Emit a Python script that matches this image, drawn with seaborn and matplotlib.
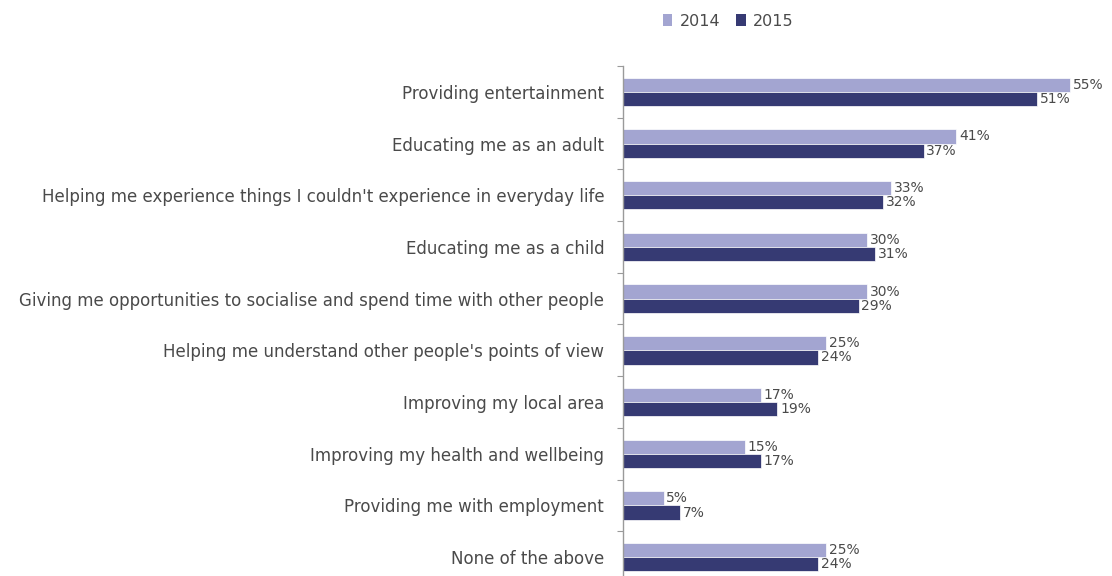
import numpy as np
import pandas as pd
import matplotlib
matplotlib.use("Agg")
import matplotlib.pyplot as plt
import seaborn as sns
from matplotlib.patches import Patch

categories = [
    "Providing entertainment",
    "Educating me as an adult",
    "Helping me experience things I couldn't experience in everyday life",
    "Educating me as a child",
    "Giving me opportunities to socialise and spend time with other people",
    "Helping me understand other people's points of view",
    "Improving my local area",
    "Improving my health and wellbeing",
    "Providing me with employment",
    "None of the above",
]
values_2014 = [55, 41, 33, 30, 30, 25, 17, 15, 5, 25]
values_2015 = [51, 37, 32, 31, 29, 24, 19, 17, 7, 24]
years = ["2014", "2015"]

colors = {"2014": "#a3a5d1", "2015": "#363a73"}
text_color = "#4a4a4a"

df = pd.DataFrame({
    "category": categories * 2,
    "value": values_2014 + values_2015,
    "year": [years[0]] * len(categories) + [years[1]] * len(categories),
})

sns.set_theme(style="white")
plt.rcParams["font.family"] = ["DejaVu Sans"]

fig = plt.figure(figsize=(11.12, 5.76), dpi=100)
ax = fig.add_axes([623 / 1112, 1 - 583 / 576, 1 - 623 / 1112, (583 - 66) / 576])

sns.barplot(
    data=df, x="value", y="category", hue="year", order=categories,
    hue_order=years, palette=colors, saturation=1, orient="h", width=0.55,
    dodge=True, edgecolor="white", linewidth=0.5, legend=False, ax=ax,
)

for container in ax.containers:
    ax.bar_label(container, fmt="%d%%", padding=2, fontsize=10,
                 color=text_color)

ax.set_xlim(0, 60.2)
ax.set_ylim(len(categories) - 0.5, -0.5)
ax.set_xlabel("")
ax.set_ylabel("")
ax.xaxis.set_visible(False)
for side in ("top", "right", "bottom"):
    ax.spines[side].set_visible(False)
ax.spines["left"].set_color("#9a9a9a")
ax.spines["left"].set_linewidth(1.0)

ax.set_yticks(range(len(categories)))
ax.set_yticklabels(categories, fontsize=12, color=text_color)
ax.tick_params(axis="y", which="major", length=0, pad=13.5)
ax.set_yticks(np.arange(-0.5, len(categories), 1.0), minor=True)
ax.tick_params(axis="y", which="minor", length=4, width=0.8,
               color="#9a9a9a", direction="out", left=True)

handles = [Patch(facecolor=colors[y], edgecolor="none", label=y) for y in years]
fig.legend(handles=handles, loc="center left", bbox_to_anchor=(0.583, 0.963),
           ncol=2, frameon=False, fontsize=11.5, handlelength=0.6,
           handleheight=0.8, handletextpad=0.45, columnspacing=1.0,
           labelcolor=text_color)

fig.savefig("out.png", dpi=100, facecolor="white")
